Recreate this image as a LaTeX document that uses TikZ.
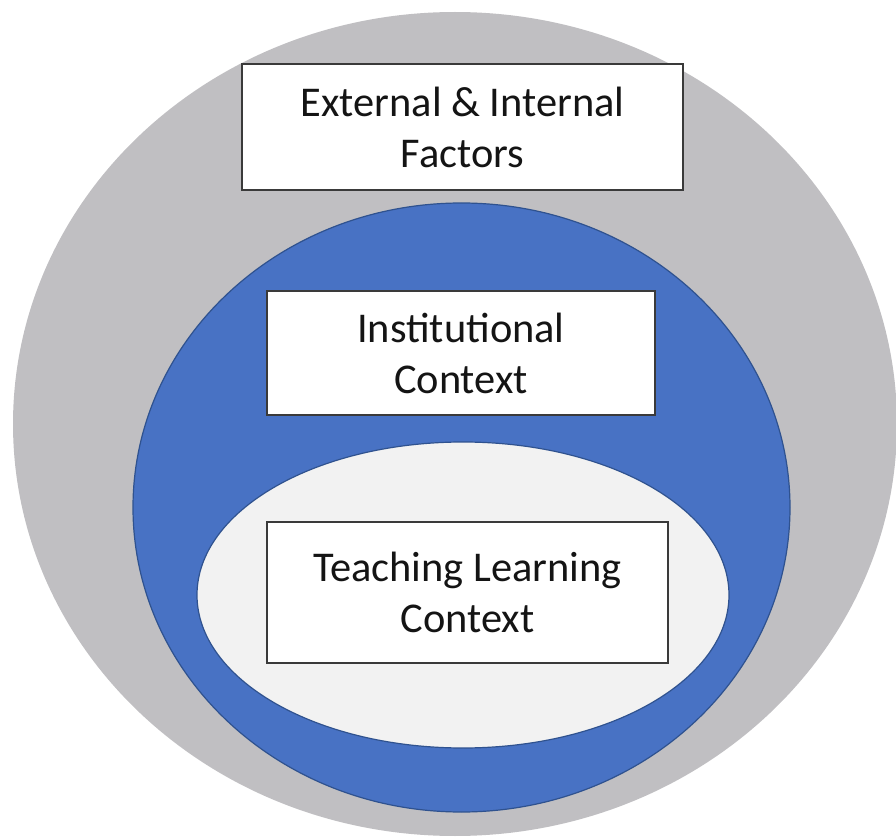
\documentclass[tikz,border=0pt]{standalone}
\usepackage{fontspec}
\setmainfont{Carlito}
\definecolor{ringgray}{RGB}{192,191,194}
\definecolor{ringblue}{RGB}{72,114,196}
\definecolor{ringedge}{RGB}{47,82,143}
\definecolor{corefill}{RGB}{242,242,242}
\definecolor{boxline}{RGB}{58,58,58}
\definecolor{labeltext}{RGB}{20,20,20}
\begin{document}
\begin{tikzpicture}[x=0.5pt,y=-0.5pt,
  labelbox/.style={draw=boxline, line width=0.85pt, fill=white, align=center,
    inner sep=0pt, text=labeltext, font=\fontsize{21.2}{25.5}\selectfont}]
\useasboundingbox (0,0) rectangle (896,840);
\clip (0,0) rectangle (896,840);
% nested context layers
\fill[ringgray] (455,424) ellipse [x radius=442, y radius=412];
\filldraw[fill=ringblue, draw=ringedge, line width=0.6pt] (461.5,507.5) ellipse [x radius=328.5, y radius=304.5];
\filldraw[fill=corefill, draw=ringedge, line width=0.6pt] (463,595) ellipse [x radius=266, y radius=153];
% layer labels
\node[labelbox, minimum width=220.5pt, minimum height=63pt] (ext) at (462.5,127) {External \& Internal\\Factors};
\node[labelbox, minimum width=194pt, minimum height=62pt] (inst) at (461,353) {Institutional\\Context};
\node[labelbox, minimum width=200.5pt, minimum height=70.5pt] (teach) at (467.5,592.5) {Teaching Learning\\Context};
\end{tikzpicture}
\end{document}
